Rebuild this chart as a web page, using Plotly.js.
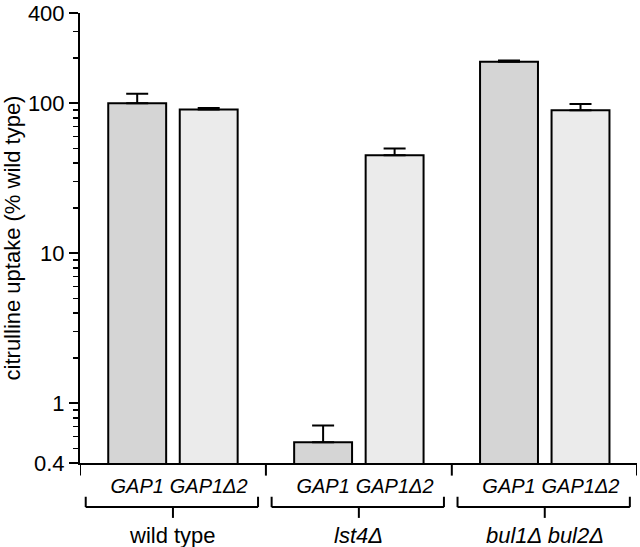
<!DOCTYPE html>
<html>
<head>
<meta charset="utf-8">
<script src="https://cdn.plot.ly/plotly-3.0.1.min.js"></script>
<style>
  html, body { margin: 0; padding: 0; background: #fff; }
  #chart { width: 640px; height: 547px; }
</style>
</head>
<body>
<div id="chart"></div>
<script>
// strains (groups) and the two alleles in each
var groups = ['wild type', '<i>lst4Δ</i>', '<i>bul1Δ bul2Δ</i>'];
var alleles = ['<i>GAP1</i>', '<i>GAP1Δ2</i>'];

// citrulline uptake, % of wild type
var gap1 = [100, 0.55, 189];
var gap1Err = [16, 0.16, 4];
var gap1d2 = [91, 45, 90];
var gap1d2Err = [2, 5, 9];

// slot of each bar on the x axis
var gap1Pos = [0, 2.6, 5.2];
var gap1d2Pos = [1, 3.6, 6.2];

var yTicks = [0.4, 1, 10, 100, 400];
var yTickText = ['0.4', '1', '10', '100', '400'];

var minorTicks = [];
var decades = [0.1, 1, 10, 100];
for (var d = 0; d < decades.length; d++) {
    for (var m = 2; m <= 9; m++) {
        var v = decades[d] * m;
        if (v > 0.4 && v < 400) minorTicks.push(v);
    }
}

var data = [
    {
        type: 'bar',
        x: gap1Pos,
        y: gap1,
        width: 0.81,
        marker: {color: '#d5d5d5', line: {color: '#000', width: 2}},
        error_y: {type: 'data', symmetric: false, array: gap1Err, arrayminus: [0, 0, 0],
                  color: '#000', thickness: 2, width: 11},
        hoverinfo: 'y'
    },
    {
        type: 'bar',
        x: gap1d2Pos,
        y: gap1d2,
        width: 0.81,
        marker: {color: '#ebebeb', line: {color: '#000', width: 2}},
        error_y: {type: 'data', symmetric: false, array: gap1d2Err, arrayminus: [0, 0, 0],
                  color: '#000', thickness: 2, width: 11},
        hoverinfo: 'y'
    }
];

var tickPos = [];
var tickText = [];
for (var g = 0; g < groups.length; g++) {
    tickPos.push(gap1Pos[g], gap1d2Pos[g]);
    tickText.push(alleles[0], alleles[1]);
}

var xMin = -0.8, xMax = 6.99;
var seps = [xMin, 1.8, 4.4, xMax];

var shapes = [];
var annotations = [];
var bTop = -0.075, bBot = -0.098, stem = -0.122;
for (var s = 0; s < seps.length; s++) {
    shapes.push({type: 'line', xref: 'x', yref: 'paper', x0: seps[s], x1: seps[s],
                 y0: 0, y1: -0.028, line: {color: '#000', width: 2}});
}
for (var g = 0; g < groups.length; g++) {
    var a = gap1Pos[g] - 0.72, b = gap1d2Pos[g] + 0.69;
    var c = (gap1Pos[g] + gap1d2Pos[g]) / 2;
    var ln = {color: '#000', width: 2};
    shapes.push({type: 'line', xref: 'x', yref: 'paper', x0: a, x1: a, y0: bTop, y1: bBot, line: ln});
    shapes.push({type: 'line', xref: 'x', yref: 'paper', x0: b, x1: b, y0: bTop, y1: bBot, line: ln});
    shapes.push({type: 'line', xref: 'x', yref: 'paper', x0: a, x1: b, y0: bBot, y1: bBot, line: ln});
    shapes.push({type: 'line', xref: 'x', yref: 'paper', x0: c, x1: c, y0: bBot, y1: stem, line: ln});
    annotations.push({xref: 'x', yref: 'paper', x: c, y: -0.161, text: groups[g],
                      showarrow: false, yanchor: 'middle', font: {size: 22, color: '#000'}});
}

var layout = {
    width: 640,
    height: 547,
    margin: {l: 80, r: 3, t: 13, b: 84},
    paper_bgcolor: '#fff',
    plot_bgcolor: '#fff',
    font: {family: 'Liberation Sans, Arial, sans-serif', color: '#000'},
    showlegend: false,
    bargap: 0,
    xaxis: {
        range: [xMin, xMax],
        tickvals: tickPos,
        ticktext: tickText,
        ticks: 'outside',
        ticklen: 4,
        tickcolor: 'rgba(0,0,0,0)',
        tickfont: {size: 20},
        showline: true,
        linecolor: '#000',
        linewidth: 2,
        showgrid: false,
        zeroline: false
    },
    yaxis: {
        type: 'log',
        range: [Math.log10(0.4), Math.log10(400)],
        tickvals: yTicks,
        ticktext: yTickText,
        ticks: 'outside',
        ticklen: 9,
        tickwidth: 2,
        tickcolor: '#000',
        tickfont: {size: 22},
        showline: true,
        linecolor: '#000',
        linewidth: 2,
        showgrid: false,
        zeroline: false,
        minor: {tickvals: minorTicks, ticks: 'outside', ticklen: 5, tickwidth: 1.5,
                tickcolor: '#000', showgrid: false},
        title: {text: 'citrulline uptake (% wild type)', font: {size: 22}, standoff: 4}
    },
    shapes: shapes,
    annotations: annotations
};

Plotly.newPlot('chart', data, layout, {displayModeBar: false, staticPlot: true});
</script>
</body>
</html>
